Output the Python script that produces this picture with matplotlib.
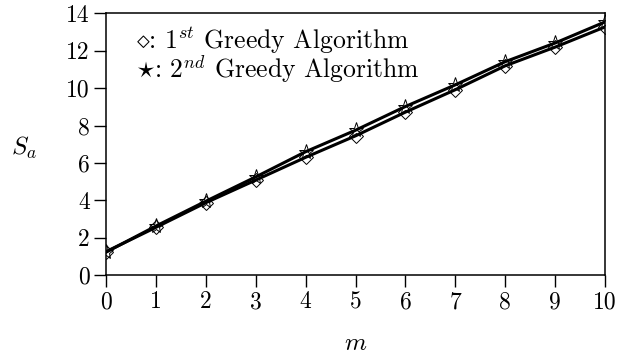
import matplotlib
matplotlib.use("Agg")
import matplotlib.pyplot as plt

plt.rcParams['font.family'] = 'serif'
plt.rcParams['font.serif'] = ['cmr10', 'DejaVu Serif']
plt.rcParams['mathtext.fontset'] = 'cm'
plt.rcParams['axes.formatter.use_mathtext'] = True

m = [0, 1, 2, 3, 4, 5, 6, 7, 8, 9, 10]
greedy1 = [1.25, 2.55, 3.87, 5.08, 6.30, 7.45, 8.72, 9.92, 11.20, 12.20, 13.28]
greedy2 = [1.22, 2.62, 3.95, 5.25, 6.60, 7.75, 9.02, 10.18, 11.42, 12.42, 13.55]
xticks = [0, 1, 2, 3, 4, 5, 6, 7, 8, 9, 10]
yticks = [0, 2, 4, 6, 8, 10, 12, 14]

fig = plt.figure(figsize=(6.18, 3.58), dpi=100)
ax = fig.add_axes([0.1715, 0.2318, 0.8075, 0.7305])

ax.plot(m, greedy1, color='black', lw=2.2, marker='D', markersize=7.5,
        markerfacecolor='none', markeredgecolor='black', markeredgewidth=0.7)
ax.plot(m, greedy2, color='black', lw=2.2, marker='*', markersize=11,
        markerfacecolor='none', markeredgecolor='black', markeredgewidth=0.7)

ax.set_xlim(0, 10)
ax.set_ylim(0, 14)
ax.set_xticks(xticks)
ax.set_yticks(yticks)
ax.set_xticklabels([str(v) for v in xticks])
ax.set_yticklabels([str(v) for v in yticks])
ax.tick_params(direction='out', length=8.6, width=1.0, labelsize=17, pad=3)
for s in ax.spines.values():
    s.set_linewidth(1.1)

ax.set_xlabel(r'$m$', fontsize=18, labelpad=14)
ax.set_ylabel(r'$S_a$', fontsize=18, rotation=0)
ax.yaxis.set_label_coords(-0.165, 0.486)
ax.yaxis.label.set_verticalalignment('center')

ax.text(0.06, 0.897, r'$\diamond$: $1^{st}$ Greedy Algorithm', transform=ax.transAxes,
        fontsize=18.5, va='center', ha='left')
ax.text(0.06, 0.787, r'$\star$: $2^{nd}$ Greedy Algorithm', transform=ax.transAxes,
        fontsize=18.5, va='center', ha='left')

fig.savefig('out.png', dpi=100)
